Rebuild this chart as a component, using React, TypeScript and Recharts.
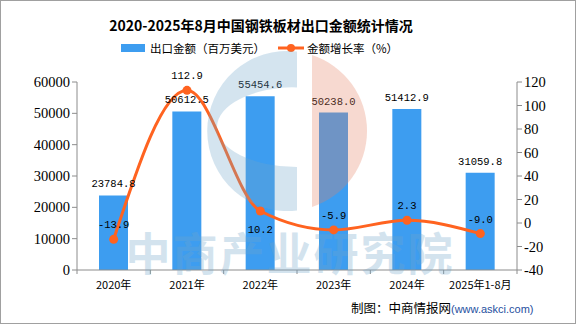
import React from "react";
import {
  ComposedChart,
  Bar,
  Line,
  XAxis,
  YAxis,
  LabelList,
} from "recharts";

const years = ["2020年", "2021年", "2022年", "2023年", "2024年", "2025年1-8月"];
const exportValue = [23784.8, 50612.5, 55454.6, 50238.0, 51412.9, 31059.8];
const growthRate = [-13.9, 112.9, 10.2, -5.9, 2.3, -9.0];
const leftTicks = [0, 10000, 20000, 30000, 40000, 50000, 60000];
const rightTicks = [-40, -20, 0, 20, 40, 60, 80, 100, 120];

const data = years.map((year, i) => ({
  year,
  value: exportValue[i],
  rate: growthRate[i],
}));

const BAR = "#3d9df0";
const LINE = "#ff6320";
const AXIS = "#8c8c8c";
const MONO = "'Liberation Mono', 'DejaVu Sans Mono', monospace";
const CJK = "'Noto Sans CJK SC', 'Noto Sans', sans-serif";
const SERIF = "'Liberation Serif', serif";

// plot is 440px wide over 6 categories
const BAND = 440 / 6;

const XTick = (props: any) => {
  const { x, y, payload, index } = props;
  const left = x - BAND / 2;
  return (
    <g>
      <line x1={left} y1={y - 8} x2={left} y2={y - 4} stroke={AXIS} />
      {index === years.length - 1 && (
        <line x1={x + BAND / 2} y1={y - 8} x2={x + BAND / 2} y2={y - 4} stroke={AXIS} />
      )}
      <text
        x={x}
        y={y + 11}
        textAnchor="middle"
        fontSize={11}
        fontFamily={CJK}
        fill="#000"
      >
        {payload.value}
      </text>
    </g>
  );
};

const RateLabel = (props: any) => {
  const { x, y, value, index } = props;
  const below = index === 2;
  return (
    <text
      x={x}
      y={below ? y + 22 : y - 11}
      textAnchor="middle"
      fontSize={10.5}
      fontFamily={MONO}
      fill="#000"
    >
      {Number(value).toFixed(1)}
    </text>
  );
};

const ChartLegend = () => (
  <div
    style={{
      position: "absolute",
      top: 40,
      left: 121,
      display: "flex",
      alignItems: "center",
      fontFamily: CJK,
      fontSize: 11.5,
      color: "#000",
      whiteSpace: "nowrap",
    }}
  >
    <span style={{ width: 24, height: 8, background: BAR, display: "inline-block" }} />
    <span style={{ marginLeft: 5 }}>出口金额（百万美元）</span>
    <svg width={26} height={10} style={{ marginLeft: 13 }}>
      <line x1={0} y1={5} x2={26} y2={5} stroke={LINE} strokeWidth={3} />
      <circle cx={13} cy={5} r={4} fill={LINE} />
    </svg>
    <span style={{ marginLeft: 3 }}>金额增长率（%）</span>
  </div>
);

export default function App() {
  return (
    <div
      style={{
        position: "absolute",
        top: 0,
        left: 0,
        width: 576,
        height: 324,
        background: "#fff",
        overflow: "hidden",
      }}
    >
      <div
        style={{
          position: "absolute",
          top: 15,
          left: 0,
          width: 522,
          textAlign: "center",
          fontFamily: CJK,
          fontWeight: 700,
          fontSize: 14,
          color: "#000",
        }}
      >
        2020-2025年8月中国钢铁板材出口金额统计情况
      </div>

      <ChartLegend />

      <ComposedChart
        width={576}
        height={324}
        data={data}
        margin={{ top: 82, right: 0, bottom: 30, left: 0 }}
      >
        <XAxis
          dataKey="year"
          height={24}
          stroke={AXIS}
          tickLine={false}
          interval={0}
          tick={<XTick />}
        />
        <YAxis
          yAxisId="left"
          width={77}
          domain={[0, 60000]}
          ticks={leftTicks}
          interval={0}
          stroke={AXIS}
          tickSize={5}
          tick={{ fill: "#000", fontSize: 14.5, fontFamily: SERIF }}
        />
        <YAxis
          yAxisId="right"
          orientation="right"
          width={59}
          domain={[-40, 120]}
          ticks={rightTicks}
          interval={0}
          stroke={AXIS}
          tickSize={5}
          tick={{ fill: "#000", fontSize: 14.5, fontFamily: SERIF }}
        />
        <Bar
          yAxisId="left"
          dataKey="value"
          fill={BAR}
          barSize={29}
          isAnimationActive={false}
        >
          <LabelList
            dataKey="value"
            position="top"
            offset={8}
            fontSize={10.5}
            fontFamily={MONO}
            fill="#000"
            formatter={(v: any) => Number(v).toFixed(1)}
          />
        </Bar>
        <Line
          yAxisId="right"
          type="monotone"
          dataKey="rate"
          stroke={LINE}
          strokeWidth={3}
          dot={{ r: 4.5, fill: LINE, stroke: LINE, strokeWidth: 0 }}
          activeDot={false}
          isAnimationActive={false}
        >
          <LabelList dataKey="rate" content={<RateLabel />} />
        </Line>
      </ComposedChart>

      {/* watermark */}
      <svg
        width={576}
        height={324}
        style={{ position: "absolute", top: 0, left: 0, pointerEvents: "none" }}
      >
        <path
          d="M297,51.6 A80,80 0 1 0 297,210.4 Z M297,87 A80,40 0 0 0 297,167 Z"
          fillRule="evenodd"
          fill="rgb(112,165,202)"
          opacity={0.3}
        />
        <path
          d="M312,55 A80,80 0 0 1 312,207 Z"
          fill="rgb(230,130,100)"
          opacity={0.3}
        />
        <text
          x={290}
          y={271}
          textAnchor="middle"
          fontSize={45}
          fontWeight={700}
          fontFamily={CJK}
          letterSpacing={2}
          fill="rgb(112,165,202)"
          opacity={0.3}
        >
          中商产业研究院
        </text>
      </svg>

      <div
        style={{
          position: "absolute",
          top: 298,
          left: 351,
          fontFamily: CJK,
          fontSize: 12.5,
          color: "#000",
          whiteSpace: "nowrap",
        }}
      >
        制图：中商情报网
        <span style={{ color: "#1f4fa0", fontSize: 11, fontFamily: "'Liberation Sans', sans-serif" }}>
          (www.askci.com)
        </span>
      </div>

      <div
        style={{
          position: "absolute",
          top: 0,
          left: 0,
          width: 576,
          height: 324,
          boxSizing: "border-box",
          border: "1px solid #a0a0a0",
          pointerEvents: "none",
        }}
      />
    </div>
  );
}
